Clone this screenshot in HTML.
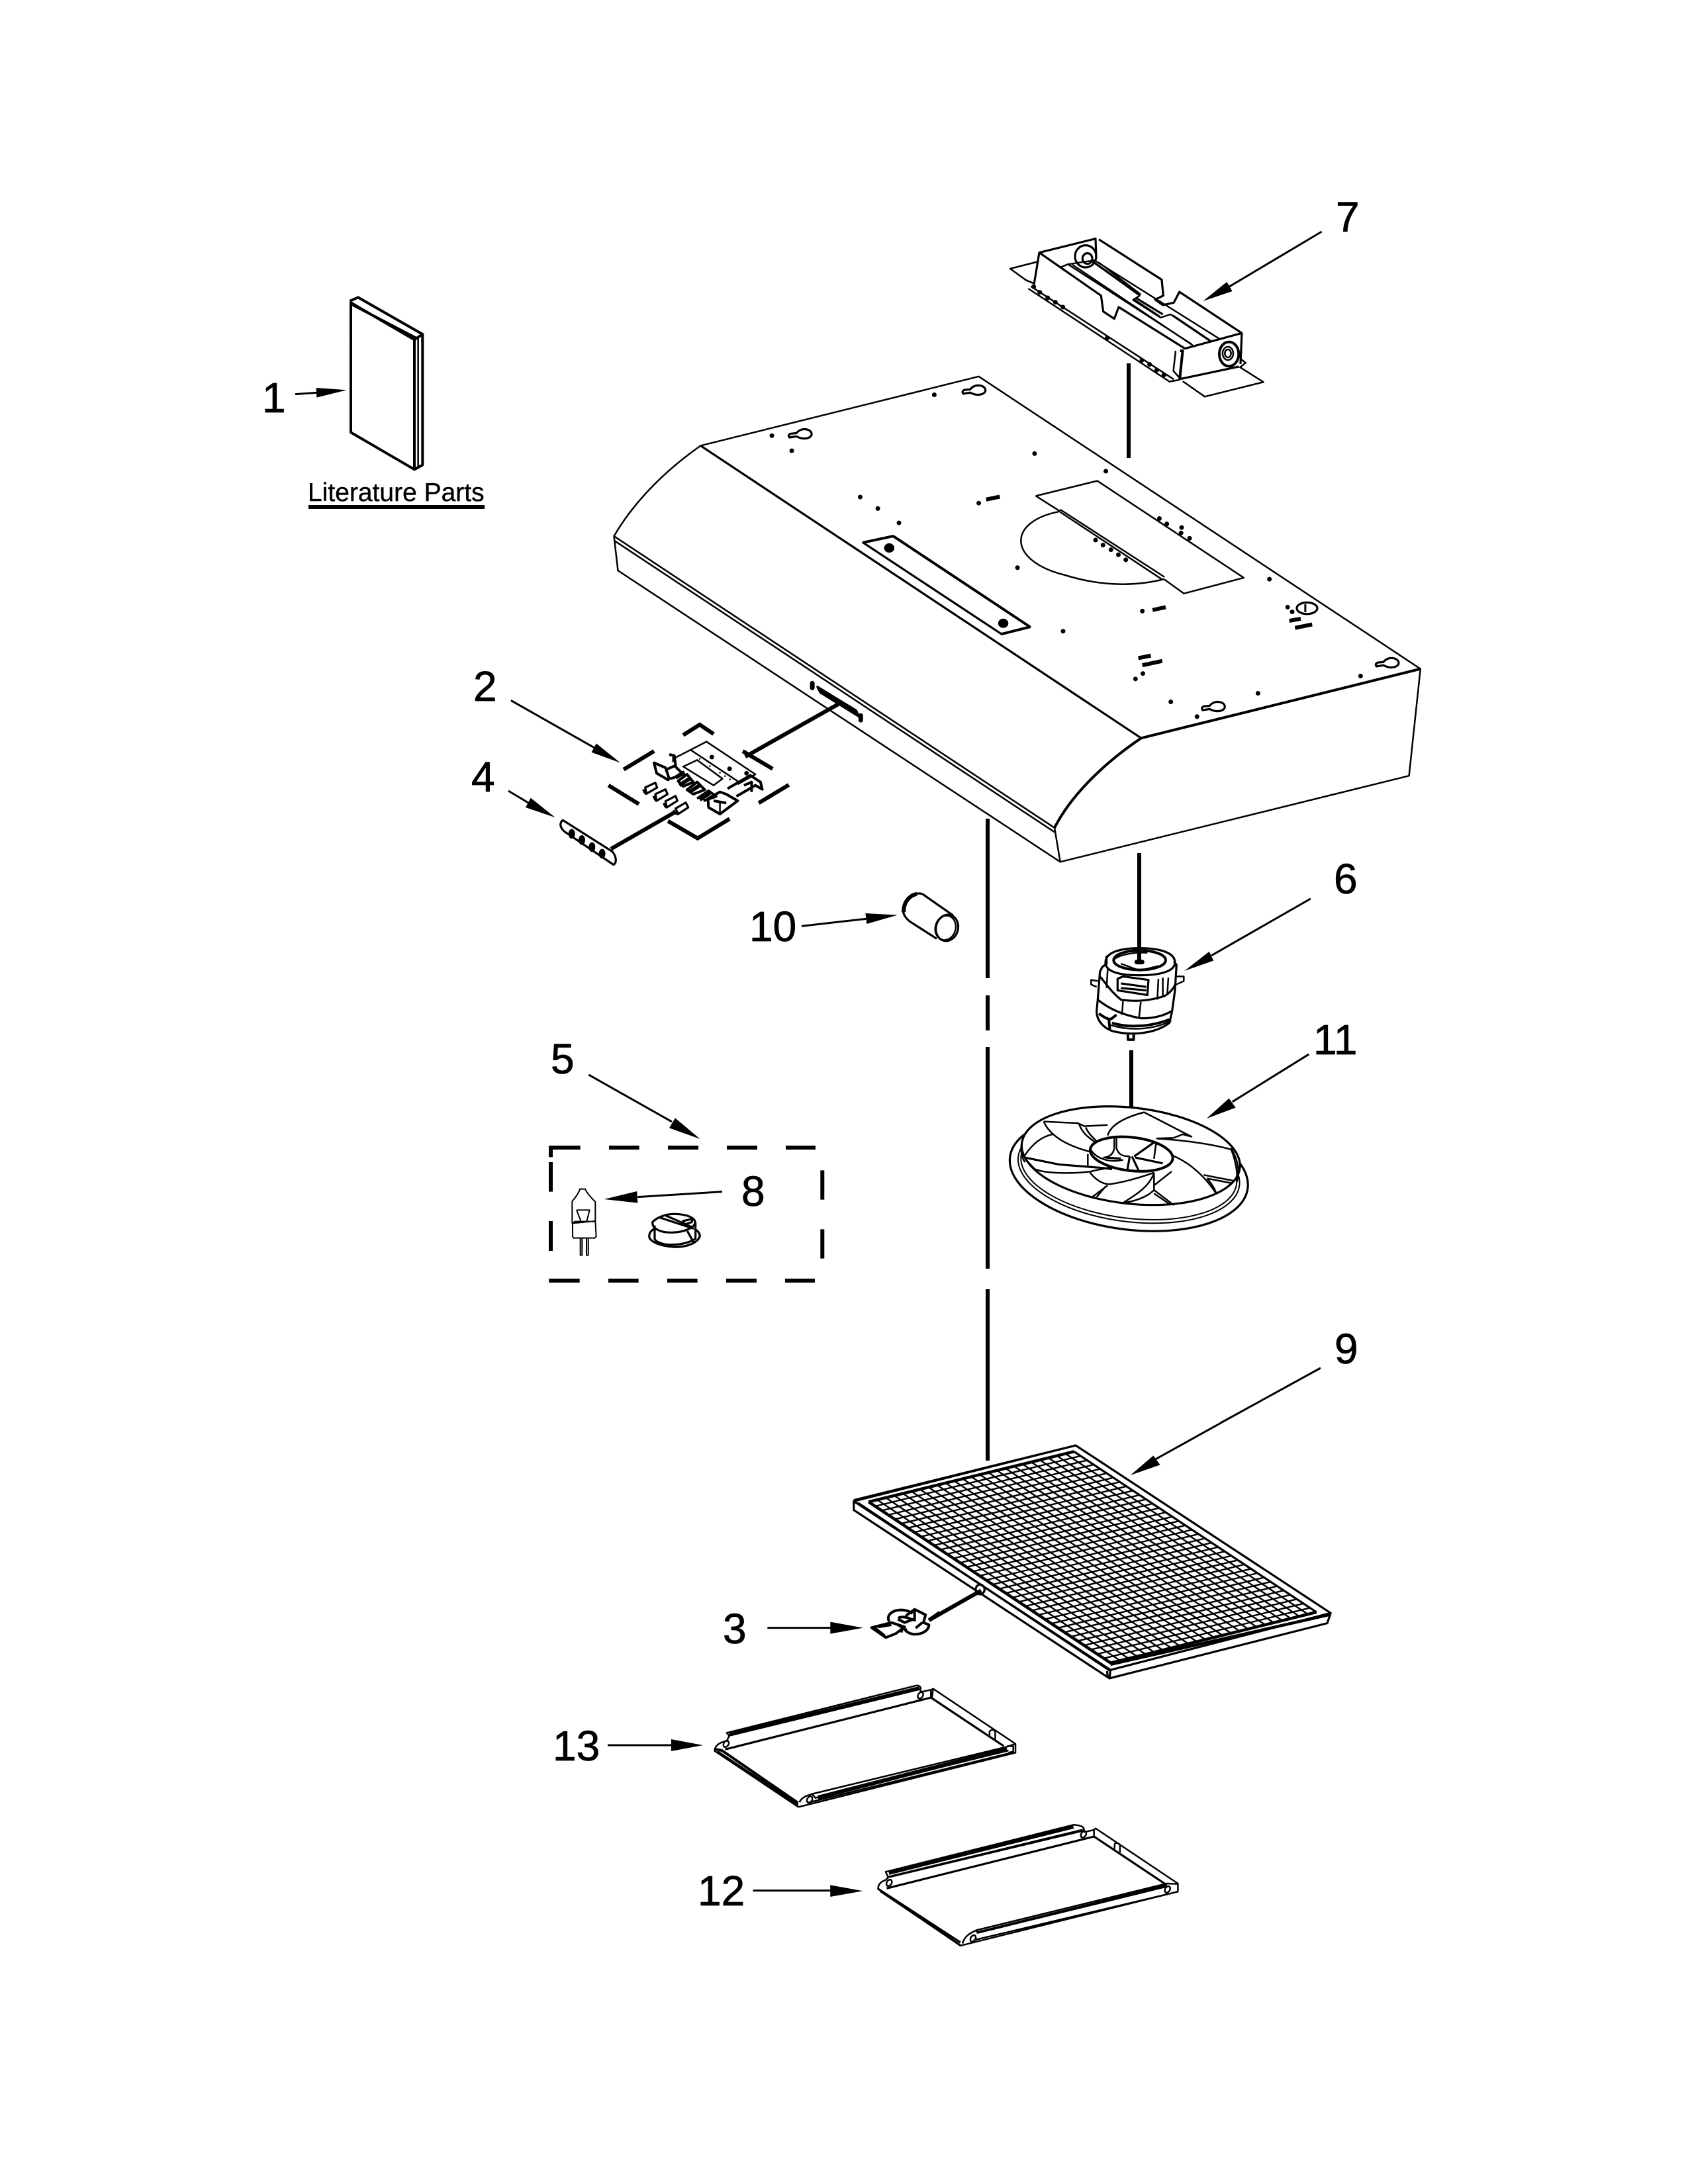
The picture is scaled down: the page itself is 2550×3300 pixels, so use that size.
<!DOCTYPE html>
<html><head><meta charset="utf-8"><style>
html,body{margin:0;padding:0;background:#fff}
svg{display:block}
path,line,ellipse,polygon{vector-effect:non-scaling-stroke;fill:none;stroke:#000;stroke-width:2.5;stroke-linejoin:round}
.f{fill:#000;stroke:none}
.w{fill:#fff}
.t3{stroke-width:3.2}
.t4{stroke-width:4}
.t6{stroke-width:6;stroke-linejoin:miter}
.d{stroke-width:7;stroke-linecap:round}
.a{stroke-width:3}
text{font-family:"Liberation Sans",sans-serif;font-size:64px;fill:#000;stroke:#000;stroke-width:.8}
</style></head><body>
<svg xmlns="http://www.w3.org/2000/svg" width="2550" height="3300" viewBox="0 0 2550 3300">
<rect width="2550" height="3300" fill="#fff"/>

<!-- labels -->
<text x="396" y="623">1</text>
<text x="715" y="1059">2</text>
<text x="1092" y="2483">3</text>
<text x="712" y="1196">4</text>
<text x="832" y="1622">5</text>
<text x="2015" y="1350">6</text>
<text x="2018" y="350">7</text>
<text x="1120" y="1822">8</text>
<text x="2016" y="2060">9</text>
<text x="1132" y="1422">10</text>
<text x="1984" y="1593">11</text>
<text x="1054" y="2879">12</text>
<text x="835" y="2660">13</text>
<text x="465" y="757" style="font-size:39px;stroke-width:.4">Literature Parts</text>
<rect x="466" y="763" width="266" height="6"/>

<!-- centre / connector lines -->
<path class="t6" d="M1492 1237V1478M1492 1504V1557M1492 1582V1917M1492 1948V2207M1721 1289V1454M1709 1587V1745M1705 549V692"/>

<!-- book Z8 -->
<g transform="translate(380,420) scale(.3333)">
<path class="t4" d="M450 112V700L738 868V280ZM445 105L483 88L775 255L738 280M458 122L745 272M775 255V848L738 868"/>
<path d="M755 272V855"/>
<path class="a" d="M198 527L295 520"/>
<polygon class="f" points="432,508 293,498 295,542"/>
</g>

<!-- hood Z1 -->
<g transform="translate(850,500) scale(.861,.5421)">
<path d="M242 320L730 127L1505 942L1015 1135Z"/>
<path class="t3" d="M242 320L1015 1135"/>
<path d="M242 320C170 400 120 490 90 572L97 668L873 1480L863 1385L90 572M90 584L863 1397"/>
<path d="M1505 942L1485 1240L873 1480"/>
<path class="t4" d="M1015 1135C945 1210 890 1300 863 1385M1015 1135L1505 942"/>
<!-- slot -->
<path class="t3" d="M447 992L515 1058L520 1075L452 1008Z"/>
<path class="t6" d="M452 1000L515 1065"/>
<path class="d" d="M438 982V995M523 1072V1085"/>
<!-- strip -->
<path class="t3" d="M527 590L580 572L820 825L770 845Z"/>
<path class="t4" d="M527 590L580 572M580 572L820 825M770 845L820 825"/>
<ellipse class="f" cx="573" cy="605" rx="9" ry="13"/>
<ellipse class="f" cx="773" cy="815" rx="9" ry="13"/>
<!-- plate -->
<path d="M830 460L938 418L1195 688L1090 732L1055 692"/>
<path d="M830 460L873 503M873 498L1056 686M873 505L1052 693"/>
<path d="M873 503C780 530 780 640 880 680C950 715 1010 710 1055 692"/>
<path class="d" d="M652 178h.01M402 334h.01M828 342h.01M953 391h.01M522 463h.01M553 495h.01M590 535h.01M730 480h.01M798 660h.01M1240 692h.01M1017 781h.01M878 837h.01M1272 770h.01M1005 970h.01M1018 955h.01M1220 1010h.01M1067 1034h.01M1113 1075h.01M1400 962h.01M1280 783h.01M367 292h.01M1047 523h.01M1060 538h.01M1086 548h.01M1085 563h.01M1100 578h.01M935 583h.01M948 597h.01M962 610h.01M975 624h.01M988 638h.01"/>
<path class="t6" d="M743 470L767 462M1035 778L1058 770M1275 808L1295 802M1285 828L1315 818M1010 912L1032 905M1017 932L1052 920"/>
<!-- keyholes -->
<path class="t3" d="M727 152C745 150 748 178 728 178C722 178 718 174 715 172L703 175C700 170 702 164 708 164L715 163C718 157 722 153 727 152Z"/>
<path class="t3" transform="translate(-305,122)" d="M727 152C745 150 748 178 728 178C722 178 718 174 715 172L703 175C700 170 702 164 708 164L715 163C718 157 722 153 727 152Z"/>
<path class="t3" transform="translate(725,760)" d="M727 152C745 150 748 178 728 178C722 178 718 174 715 172L703 175C700 170 702 164 708 164L715 163C718 157 722 153 727 152Z"/>
<path class="t3" transform="translate(420,882)" d="M727 152C745 150 748 178 728 178C722 178 718 174 715 172L703 175C700 170 702 164 708 164L715 163C718 157 722 153 727 152Z"/>
<ellipse class="t3" cx="1306" cy="773" rx="18" ry="16"/>
<path class="a" d="M1303 762V784"/>
</g>

<!-- item 7 Z2 -->
<g transform="translate(1500,300) scale(.3333)">
<path d="M208 285L78 318L150 370L186 385M160 408L800 830L845 822M860 828L960 898L1226 832L1120 765L1145 745L1125 728"/>
<path d="M172 398L820 820"/>
<path class="t3" d="M186 390L210 245L465 182L468 270M480 185L765 368L772 440L735 458L770 483L820 472L845 423L1128 610L1122 750M210 245L490 440L500 512L550 545L570 492L870 680L1128 610M860 685L848 818L1115 762"/>
<path class="t4" d="M848 690L860 690L846 822"/>
<path d="M828 690L818 782L848 815"/>
<ellipse cx="420" cy="262" rx="48" ry="50" class="t3"/>
<ellipse cx="428" cy="272" rx="22" ry="24" class="t3"/>
<ellipse cx="1070" cy="705" rx="44" ry="55" class="t4"/>
<ellipse cx="1065" cy="702" rx="24" ry="30"/>
<ellipse cx="1065" cy="702" rx="14" ry="18"/>
<path d="M310 310L340 298L900 660M340 298L460 280L1025 635M360 300L905 665M450 285L665 440L635 460L760 540L805 525L990 650M480 290L670 435"/>
<path class="t3" d="M635 455L755 535M650 452L770 525M815 530L985 645M465 295L650 425"/>
<path class="d" d="M185 400h.01M212 425h.01M248 450h.01M283 470h.01M317 492h.01M518 632h.01M675 733h.01M710 752h.01M742 778h.01M775 800h.01"/>
<path class="a" d="M1490 150L1070 400"/>
<polygon class="f" points="952,465 1060,378 1085,420"/>
</g>

<!-- switch Z3 -->
<g transform="translate(680,1000) scale(.3827,.3333)">
<path class="t6" d="M920 332L985 285L1040 327M685 488L805 405M1155 405L1273 485M625 560L745 645M1218 640L1337 558M860 722L977 800L1103 712M1165 430L1535 190M635 848L890 680"/>
<path d="M880 440L1012 362L1205 510L1135 555M950 400L1140 545M920 475L975 445L1075 530L1040 560Z"/>
<path class="t4" d="M805 458L850 480L865 530L860 535L815 505ZM865 420L885 425L890 470L850 490M885 470L920 510L870 530M900 540L935 510L960 545L920 565ZM935 580L975 545L1005 580L960 600ZM975 620L1020 585L1050 610L1000 630M1018 620L1065 590L1090 600L1135 630L1065 690L1020 660ZM1040 630L1090 640M1095 575L1185 515L1225 545L1232 578L1205 560L1130 610M1160 560L1190 545V590"/>
<path class="t6" d="M890 525L925 500M905 560L945 530M945 590L985 560M985 625L1025 595"/>
<path d="M880 455V420M1065 690V640"/>
<path class="d" d="M1033 432h.01M1103 485h.01M1170 505h.01"/>
<path d="M985 440h.1M1025 473h.1M1065 503h.1M1085 518h.1M1105 533h.1" stroke-linecap="round" stroke-width="4"/>
<path class="t3" d="M770 570L810 548L817 570L775 598ZM762 578C765 590 772 600 775 598M810 600L850 578L858 600L815 630ZM803 608C806 620 812 632 815 630M850 632L890 608L897 630L855 660ZM843 640C846 652 852 662 855 660M890 665L930 638L940 660L900 690ZM883 672C886 685 893 692 900 690"/>
<!-- knob strip -->
<path class="t3" d="M445 718L640 860C655 880 660 910 645 920L465 780C440 765 425 735 445 718Z"/>
<ellipse class="f" cx="480" cy="780" rx="13" ry="22"/><ellipse class="f" cx="520" cy="808" rx="13" ry="22"/><ellipse class="f" cx="560" cy="840" rx="13" ry="22"/><ellipse class="f" cx="600" cy="870" rx="13" ry="22"/>
<path class="a" d="M240 175L570 390"/><polygon class="f" points="672,458 577,370 558,410"/>
<path class="a" d="M230 585L310 640"/><polygon class="f" points="415,706 318,617 298,660"/>
</g>

<!-- capacitor Z9 -->
<g transform="translate(1100,1290) scale(.3333)">
<path class="a" d="M333 328L625 295"/><polygon class="f" points="768,278 622,270 628,318"/>
<path class="t3" d="M880 182L1020 280M820 305L945 385M880 182C830 170 785 215 795 270C800 285 810 295 820 305"/>
<path class="t6" d="M855 182C820 190 795 220 795 265"/>
<ellipse class="t3" cx="992" cy="336" rx="50" ry="60" transform="rotate(15 992 336)"/>
<ellipse cx="985" cy="336" rx="46" ry="56" transform="rotate(15 985 336)"/>
</g>

<!-- dashed box Z7 -->
<g transform="translate(800,1700) scale(.3333)">
<path class="t6" d="M88 102H230M360 102H497M627 102H765M894 102H1032M1161 102H1296M88 705H227M357 705H494M624 705H761M891 705H1029M1158 705H1293M96 95V145M96 168V302M96 435V570M1327 205V338M1327 472V605"/>
<path style="stroke-width:2" d="M193 345C215 320 225 300 228 290H252C258 305 275 325 298 348V440M193 345V445M213 385H272L258 440M213 385L235 442M195 445L298 435L302 505L295 512H200L195 505ZM195 445L205 437L298 437M230 515V590H238V515M258 515V590H266V515"/>
<path class="t3" d="M557 440C575 420 615 403 655 403C710 403 750 420 750 440C750 465 700 487 640 487C590 487 555 468 557 440ZM567 455V515C570 530 610 545 650 542C690 542 730 530 752 515V440M587 418L745 470M613 408L735 462"/>
<path class="t3" d="M565 470C545 482 538 498 545 515C570 545 640 555 680 552C730 548 770 525 772 500C770 488 760 478 752 474M715 480L745 535M695 435L740 425L735 440L705 450Z"/>
<path class="a" d="M873 302L490 326"/><polygon class="f" points="338,336 487,300 490,353"/>
</g>
<!-- arrow 5 Z11 -->
<g transform="translate(780,1540) scale(.3333)">
<path class="a" d="M328 252L705 465"/><polygon class="f" points="833,543 720,448 693,493"/>
</g>

<!-- motor + fan Z4 -->
<g transform="translate(1480,1300) scale(.3333,.3508)">
<path class="a" d="M1500 165L1050 410"/><polygon class="f" points="928,476 1040,393 1060,432"/>
<path class="a" d="M1492 835L1145 1040"/><polygon class="f" points="1028,1112 1130,1025 1160,1065"/>
<!-- motor -->
<path class="t3" d="M570 440C570 395 640 378 725 378C810 378 885 395 885 440C885 470 840 495 725 495C620 495 570 475 570 440Z"/>
<ellipse class="t4" cx="725" cy="430" rx="118" ry="42"/>
<path d="M640 445L725 475L810 455M610 425C640 405 700 395 760 398"/>
<path class="d" d="M712 438h24"/>
<path class="t3" d="M575 410V445L555 460L545 480L535 600L530 650C530 690 560 720 600 735C680 755 790 750 860 700L872 650L885 560L892 450L880 435"/>
<path class="t3" d="M535 600C580 635 640 665 730 680C780 682 835 670 868 650"/>
<path class="t3" d="M545 500C580 540 600 570 640 600C700 610 770 605 835 585C860 575 880 550 888 530"/>
<path class="t3" d="M625 510V560L760 580L765 515L650 500ZM640 530L755 545M640 550L755 560"/>
<path d="M580 470L575 550M650 600L645 665M730 610L722 680M810 510L805 600M830 505V590M855 505L850 580"/>
<path class="t4" d="M540 660C570 680 590 690 600 680L620 665M585 680L590 730M600 700C660 720 770 720 860 685"/>
<path d="M595 710C680 735 790 730 868 690"/>
<path d="M535 520L505 515V535L530 545M892 500H925V520L890 535"/>
<path class="t4" d="M672 750V772H698V750"/>
<!-- flange -->
<ellipse cx="676" cy="1345" rx="543" ry="245" transform="rotate(7 676 1345)" class="t3"/>
<ellipse cx="676" cy="1338" rx="505" ry="218" transform="rotate(7 676 1338)" style="stroke-width:2"/>
<ellipse cx="676" cy="1333" rx="492" ry="208" transform="rotate(7 676 1333)" style="stroke-width:2"/>
<!-- fan ring -->
<ellipse class="w t3" cx="685" cy="1272" rx="497" ry="207" transform="rotate(6 685 1272)"/>
<path d="M1140 1240C1170 1290 1180 1340 1165 1385M190 1220C185 1250 190 1280 205 1300"/>
<path d="M290 1125L445 1132L475 1145L580 1140M290 1125C320 1190 400 1230 500 1255M450 1135C465 1175 495 1195 525 1215M480 1150C495 1180 515 1195 530 1210"/>
<path d="M580 1185C595 1135 665 1105 745 1085L960 1190L920 1180L880 1195L800 1198M800 1198C920 1205 1040 1220 1140 1245C1160 1295 1170 1340 1165 1385M1015 1355L1150 1380M1030 1370L1140 1390M1030 1370C1055 1395 1070 1425 1072 1435"/>
<ellipse class="t4" cx="688" cy="1265" rx="188" ry="72" transform="rotate(6 688 1265)"/>
<path d="M500 1240C520 1280 580 1305 650 1290M620 1195V1240C630 1270 650 1275 680 1275M610 1195V1240C605 1270 580 1280 560 1280M800 1215L790 1285M870 1270C950 1300 1020 1360 1072 1435"/>
<path class="t3" d="M790 1215L700 1275M205 1280L360 1310L560 1325L600 1330M705 1280L830 1305M680 1275L670 1330M690 1275L720 1335M570 1280L640 1285"/>
<path d="M205 1285L250 1330C300 1350 420 1350 505 1340C540 1330 570 1330 600 1320M490 1265L490 1315M205 1270C240 1220 280 1190 330 1180M500 1345C530 1380 560 1395 590 1395C660 1385 730 1365 790 1345M790 1345V1420C760 1450 700 1470 650 1475C690 1450 770 1410 790 1345M580 1400L510 1450M570 1405L530 1450M790 1420L880 1485M790 1435L860 1480M790 1345V1400L870 1340"/>
</g>

<!-- filter Z5 -->
<g transform="translate(1250,2150) scale(.5102,.3333)">
<path class="t3" d="M735 102L1490 862L1480 908L835 1158L78 395V355Z"/>
<path class="t3" d="M78 355L838 1120L1490 862M838 1120L835 1158M828 1125L830 1155"/>
<path class="t3" d="M735 102L78 350M90 362L838 1125"/>
<path class="t6" d="M122 358L730 130M122 358L838 1088L1448 858" style="stroke-width:4.5"/>
<path class="t3" d="M730 130L1448 858"/>
<path class="t6" style="stroke-width:4.5;stroke-linejoin:round" d="M838 1095L1490 868"/>
<path class="t6" d="M302 893L455 760"/>
<ellipse class="t3" cx="452" cy="755" rx="13" ry="22"/>
<path class="a" d="M1165 0L965 170"/><polygon class="f" points="897,237 965,148 985,190"/>
</g>
<path class="a" d="M1995 2067L1844 2150"/>
<!-- mesh 24 x 37 -->
<path style="stroke-width:2.4" d="M1622.4 2193.3l366.4 242.7m-379.32-239.53l366.4 242.7m-379.32-239.53l366.4 242.7m-379.32-239.53l366.4 242.7m-379.32-239.53l366.4 242.7m-379.32-239.53l366.4 242.7m-379.32-239.53l366.4 242.7m-379.32-239.53l366.4 242.7m-379.32-239.53l366.4 242.7m-379.32-239.53l366.4 242.7m-379.32-239.53l366.4 242.7m-379.32-239.53l366.4 242.7m-379.32-239.53l366.4 242.7m-379.32-239.53l366.4 242.7m-379.32-239.53l366.4 242.7m-379.32-239.53l366.4 242.7m-379.32-239.53l366.4 242.7m-379.32-239.53l366.4 242.7m-379.32-239.53l366.4 242.7m-379.32-239.53l366.4 242.7m-379.32-239.53l366.4 242.7m-379.32-239.53l366.4 242.7m-379.32-239.53l366.4 242.7m-379.32-239.53l366.4 242.7m-379.32-239.53l366.4 242.7"/>
<path style="stroke-width:2.4" d="M1622.4 2193.3l-310 76m319.9-69.44l-310 76m319.9-69.44l-310 76m319.9-69.44l-310 76m319.9-69.44l-310 76m319.9-69.44l-310 76m319.9-69.44l-310 76m319.9-69.44l-310 76m319.9-69.44l-310 76m319.9-69.44l-310 76m319.9-69.44l-310 76m319.9-69.44l-310 76m319.9-69.44l-310 76m319.9-69.44l-310 76m319.9-69.44l-310 76m319.9-69.44l-310 76m319.9-69.44l-310 76m319.9-69.44l-310 76m319.9-69.44l-310 76m319.9-69.44l-310 76m319.9-69.44l-310 76m319.9-69.44l-310 76m319.9-69.44l-310 76m319.9-69.44l-310 76m319.9-69.44l-310 76m319.9-69.44l-310 76m319.9-69.44l-310 76m319.9-69.44l-310 76m319.9-69.44l-310 76m319.9-69.44l-310 76m319.9-69.44l-310 76m319.9-69.44l-310 76m319.9-69.44l-310 76m319.9-69.44l-310 76m319.9-69.44l-310 76m319.9-69.44l-310 76m319.9-69.44l-310 76"/>

<!-- clip 3 Z10 -->
<g transform="translate(1060,2380) scale(.3333)">
<path class="a" d="M298 239H585"/><polygon class="f" points="732,239 583,212 583,266"/>
<path class="t4" d="M770 238L860 215L920 235L880 265L835 283ZM785 240L830 275M800 235L860 225"/>
<path class="t4" d="M850 210C835 185 860 158 905 158C925 158 945 165 955 175M890 195C910 185 930 190 950 200M925 185L965 155L1015 180L1005 215L1030 225C1030 250 1000 270 960 268C940 265 925 255 920 245M890 200L920 215L960 200M965 155V210M1000 215L970 240M880 220L930 250M910 235L905 260"/>
<path class="t6" d="M1030 205L1080 170"/>
</g>

<!-- trays Z6 -->
<g transform="translate(1050,2500) scale(.4783,.3333)">
<path class="a" d="M183 1070H430"/><polygon class="f" points="530,1072 427,1045 427,1098"/>
<!-- tray 13 -->
<path d="M100 355L700 140C712 142 714 150 712 157L108 368ZM108 368L100 392C70 400 62 420 62 437L325 690L330 690L1012 445V405L752 155L745 160L712 170V157M745 160V195M752 155L748 198"/>
<path class="t4" d="M108 360L708 150"/>
<path class="t3" d="M95 430L745 195L975 415"/>
<path class="t4" d="M62 428L85 435L325 672M70 440L325 682"/>
<path d="M330 670C335 650 350 640 370 632L985 418L1012 405M370 632L380 650L990 435M355 672L1008 442"/>
<path class="t6" d="M388 648L985 428"/>
<ellipse cx="98" cy="405" rx="8" ry="15" transform="rotate(15 98 405)"/>
<ellipse cx="712" cy="185" rx="8" ry="15" transform="rotate(15 712 185)"/>
<ellipse cx="362" cy="657" rx="8" ry="15" transform="rotate(15 362 657)"/>
<path d="M930 372V350C935 338 945 340 948 350V385"/>
<path d="M985 415L1005 415V440L990 445"/>
<!-- tray 12 -->
<path d="M602 985L1195 772C1225 775 1230 785 1228 798L610 1010ZM610 1010L602 1022C585 1030 578 1045 578 1062L838 1320L1525 1075V1038L1265 788L1260 795L1228 805M1260 795V825"/>
<path class="t3" d="M605 1060L1260 825L1490 1045M578 1062L838 1305M585 1072L838 1318"/>
<path class="t6" d="M612 990L1195 780"/>
<path class="t3" d="M612 1008L1225 795"/>
<path d="M845 1310C850 1280 865 1265 888 1250L1490 1038L1525 1040M888 1250L892 1262L1495 1050M880 1295L1525 1075M892 1258L1490 1045"/>
<ellipse cx="613" cy="1035" rx="8" ry="15" transform="rotate(15 613 1035)"/>
<ellipse cx="1227" cy="815" rx="8" ry="15" transform="rotate(15 1227 815)"/>
<ellipse cx="878" cy="1287" rx="8" ry="15" transform="rotate(15 878 1287)"/>
<ellipse cx="1492" cy="1065" rx="8" ry="15" transform="rotate(15 1492 1065)"/>
<path d="M1325 860C1330 850 1340 855 1342 865V898M1325 860V882"/>
</g>
<!-- arrow 13 -->
<path class="a" d="M918 2637H1015"/><polygon class="f" points="1062,2637 1014,2628 1014,2646"/>
</svg>
</body></html>
